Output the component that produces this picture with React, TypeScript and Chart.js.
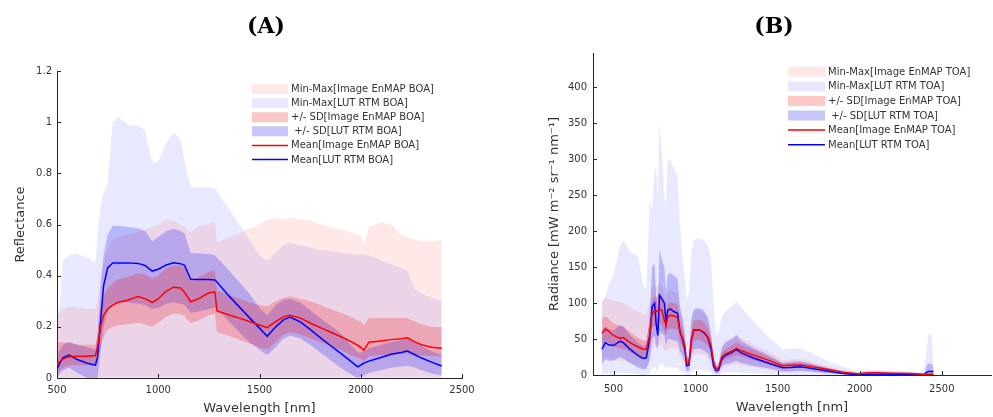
import React, { useEffect, useRef } from 'react';
import { Chart, registerables } from 'chart.js';
Chart.register(...registerables);

const FONT = '"DejaVu Sans", sans-serif';
const TEXT = '#333333';
const AXIS = '#262626';

// ---------- Panel A (BOA reflectance) ----------
const WL_A = [500, 515, 530, 560, 600, 650, 690, 700, 715, 730, 750, 775, 800, 850, 900, 935, 970, 1000, 1040, 1075, 1110, 1130, 1160, 1200, 1250, 1280, 1290, 1350, 1400, 1450, 1500, 1538, 1580, 1620, 1650, 1700, 1750, 1800, 1850, 1900, 1950, 1985, 2000, 2015, 2040, 2100, 2150, 2200, 2230, 2270, 2300, 2350, 2400];
const MEAN_IMG_A = [0.05, 0.065, 0.075, 0.083, 0.085, 0.085, 0.088, 0.12, 0.2, 0.245, 0.27, 0.285, 0.295, 0.305, 0.318, 0.31, 0.295, 0.31, 0.34, 0.355, 0.352, 0.335, 0.298, 0.31, 0.333, 0.336, 0.262, 0.246, 0.234, 0.221, 0.207, 0.197, 0.22, 0.24, 0.245, 0.235, 0.215, 0.197, 0.18, 0.162, 0.143, 0.128, 0.12, 0.108, 0.14, 0.145, 0.15, 0.153, 0.157, 0.14, 0.13, 0.12, 0.116];
const MEAN_LUT_A = [0.035, 0.06, 0.08, 0.09, 0.072, 0.058, 0.05, 0.08, 0.22, 0.36, 0.43, 0.45, 0.45, 0.45, 0.448, 0.44, 0.418, 0.425, 0.442, 0.45, 0.447, 0.44, 0.386, 0.385, 0.385, 0.383, 0.375, 0.32, 0.278, 0.236, 0.195, 0.163, 0.2, 0.228, 0.238, 0.22, 0.19, 0.158, 0.127, 0.097, 0.066, 0.044, 0.05, 0.058, 0.066, 0.08, 0.093, 0.1, 0.105, 0.09, 0.078, 0.062, 0.047];
const SD_IMG_LO_A = [0.02, 0.03, 0.04, 0.05, 0.05, 0.05, 0.05, 0.07, 0.12, 0.16, 0.19, 0.2, 0.205, 0.21, 0.215, 0.21, 0.2, 0.215, 0.24, 0.25, 0.25, 0.24, 0.215, 0.225, 0.245, 0.25, 0.18, 0.165, 0.15, 0.135, 0.12, 0.11, 0.14, 0.17, 0.18, 0.17, 0.155, 0.14, 0.125, 0.11, 0.09, 0.08, 0.075, 0.065, 0.085, 0.09, 0.09, 0.095, 0.095, 0.09, 0.088, 0.086, 0.085];
const SD_IMG_HI_A = [0.14, 0.14, 0.14, 0.14, 0.13, 0.13, 0.13, 0.17, 0.27, 0.32, 0.35, 0.37, 0.385, 0.395, 0.41, 0.405, 0.39, 0.4, 0.43, 0.44, 0.44, 0.43, 0.38, 0.395, 0.415, 0.42, 0.34, 0.325, 0.31, 0.295, 0.285, 0.28, 0.3, 0.315, 0.32, 0.31, 0.3, 0.285, 0.27, 0.255, 0.24, 0.225, 0.22, 0.205, 0.235, 0.235, 0.235, 0.235, 0.235, 0.22, 0.21, 0.2, 0.198];
const SD_LUT_LO_A = [0.0, 0.02, 0.03, 0.04, 0.02, 0.0, 0.0, 0.0, 0.1, 0.2, 0.26, 0.29, 0.295, 0.295, 0.29, 0.285, 0.27, 0.275, 0.29, 0.295, 0.29, 0.285, 0.255, 0.26, 0.27, 0.275, 0.27, 0.22, 0.18, 0.14, 0.11, 0.09, 0.12, 0.155, 0.165, 0.155, 0.13, 0.1, 0.07, 0.04, 0.015, 0.0, 0.005, 0.01, 0.02, 0.03, 0.04, 0.045, 0.048, 0.04, 0.03, 0.018, 0.01];
const SD_LUT_HI_A = [0.08, 0.11, 0.13, 0.14, 0.13, 0.12, 0.11, 0.17, 0.35, 0.48, 0.56, 0.595, 0.595, 0.59, 0.585, 0.575, 0.535, 0.55, 0.575, 0.583, 0.575, 0.565, 0.49, 0.487, 0.485, 0.48, 0.47, 0.42, 0.375, 0.33, 0.275, 0.245, 0.285, 0.305, 0.31, 0.295, 0.265, 0.235, 0.205, 0.175, 0.13, 0.1, 0.1, 0.105, 0.115, 0.13, 0.14, 0.15, 0.155, 0.14, 0.125, 0.105, 0.09];
const MM_IMG_LO_A = [0.003, 0.003, 0.003, 0.003, 0.003, 0.003, 0.003, 0.003, 0.004, 0.005, 0.005, 0.005, 0.005, 0.005, 0.005, 0.005, 0.005, 0.005, 0.005, 0.005, 0.005, 0.005, 0.005, 0.005, 0.005, 0.005, 0.005, 0.005, 0.005, 0.005, 0.005, 0.005, 0.005, 0.005, 0.005, 0.005, 0.005, 0.005, 0.005, 0.005, 0.005, 0.005, 0.005, 0.005, 0.005, 0.005, 0.005, 0.005, 0.005, 0.005, 0.005, 0.005, 0.005];
const MM_IMG_HI_A = [0.24, 0.26, 0.27, 0.28, 0.275, 0.27, 0.27, 0.3, 0.4, 0.45, 0.5, 0.54, 0.55, 0.56, 0.57, 0.58, 0.59, 0.6, 0.62, 0.615, 0.6, 0.59, 0.57, 0.595, 0.6, 0.61, 0.53, 0.55, 0.565, 0.585, 0.6, 0.62, 0.625, 0.62, 0.625, 0.62, 0.615, 0.6, 0.59, 0.58, 0.57, 0.56, 0.555, 0.52, 0.59, 0.61, 0.6, 0.56, 0.55, 0.54, 0.535, 0.535, 0.537];
const MM_LUT_LO_A = [0.0, 0.0, 0.0, 0.0, 0.0, 0.0, 0.0, 0.0, 0.0, 0.0, 0.0, 0.0, 0.0, 0.0, 0.0, 0.0, 0.0, 0.0, 0.0, 0.0, 0.0, 0.0, 0.0, 0.0, 0.0, 0.0, 0.0, 0.0, 0.0, 0.0, 0.0, 0.0, 0.0, 0.0, 0.0, 0.0, 0.0, 0.0, 0.0, 0.0, 0.0, 0.0, 0.0, 0.0, 0.0, 0.0, 0.0, 0.0, 0.0, 0.0, 0.0, 0.0, 0.0];
const MM_LUT_HI_A = [0.22, 0.3, 0.46, 0.48, 0.485, 0.47, 0.45, 0.55, 0.68, 0.72, 0.76, 1.0, 1.02, 0.99, 0.985, 0.97, 0.84, 0.845, 0.92, 0.96, 0.93, 0.85, 0.745, 0.745, 0.745, 0.74, 0.73, 0.66, 0.6, 0.54, 0.48, 0.457, 0.49, 0.52, 0.53, 0.52, 0.51, 0.5, 0.495, 0.49, 0.485, 0.48, 0.483, 0.483, 0.48, 0.46, 0.445, 0.43, 0.42, 0.345, 0.33, 0.315, 0.3];
const X_TICKS_A = [500, 1000, 1500, 2000, 2500];
const Y_TICKS_A = [0, 0.2, 0.4, 0.6, 0.8, 1, 1.2];
const LEGEND_A = ['Min-Max[Image EnMAP BOA]', 'Min-Max[LUT RTM BOA]', '+/- SD[Image EnMAP BOA]', ' +/- SD[LUT RTM BOA]', 'Mean[Image EnMAP BOA]', 'Mean[LUT RTM BOA]'];

// ---------- Panel B (TOA radiance) ----------
const WL_B = [430, 450, 470, 500, 540, 560, 600, 650, 680, 700, 720, 735, 750, 760, 770, 780, 795, 810, 820, 830, 845, 870, 890, 905, 920, 935, 945, 960, 975, 990, 1020, 1050, 1075, 1095, 1110, 1125, 1140, 1160, 1180, 1220, 1250, 1275, 1350, 1450, 1530, 1580, 1640, 1700, 1800, 1900, 2000, 2020, 2050, 2100, 2200, 2300, 2390, 2410, 2420, 2440, 2450];
const MEAN_IMG_B = [58, 64, 61, 55, 51, 52, 45, 39, 36, 36, 55, 85, 90, 88, 90, 92, 90, 75, 70, 80, 83, 82, 80, 60, 52, 40, 17, 17, 50, 62, 63, 60, 53, 40, 18, 8, 10, 25, 29, 33, 37, 34, 28, 20, 13, 13.5, 14, 12, 8, 4, 1.5, 2.5, 3, 3, 2.5, 2, 1, 1, 1, 1, 1];
const MEAN_LUT_B = [36, 45, 42, 41, 47, 45, 36, 27, 23, 24, 50, 95, 100, 70, 55, 111, 106, 100, 72, 90, 92, 88, 86, 60, 50, 35, 13, 14, 50, 63, 63, 59, 52, 35, 12, 6, 7, 22, 27, 31, 36, 31, 24, 16, 10, 10.5, 11.5, 9.5, 5.5, 2, 0, 0.5, 1, 1, 1, 0.5, 0, 4, 5, 5, 5];
const SD_IMG_LO_B = [42, 47, 45, 40, 37, 37, 32, 27, 25, 25, 40, 65, 70, 68, 70, 72, 70, 58, 55, 62, 65, 64, 62, 46, 40, 30, 12, 12, 38, 48, 49, 46, 41, 30, 13, 5, 7, 19, 22, 25, 28, 26, 21, 15, 10, 10, 11, 9, 6, 3, 1, 1.5, 2, 2, 1.8, 1.3, 0.5, 0.5, 0.5, 0.5, 0.5];
const SD_IMG_HI_B = [78, 82, 78, 72, 68, 68, 60, 52, 48, 48, 72, 105, 110, 108, 110, 112, 110, 92, 86, 98, 101, 100, 98, 75, 65, 50, 22, 22, 62, 76, 77, 74, 65, 50, 23, 11, 13, 31, 36, 41, 46, 42, 35, 25, 16, 17, 17.5, 15, 10, 5, 2.5, 3.5, 4, 4, 3.5, 3, 1.5, 1.5, 1.5, 1.5, 1.5];
const SD_LUT_LO_B = [15, 22, 20, 20, 25, 23, 17, 10, 8, 8, 20, 50, 55, 40, 35, 60, 58, 55, 40, 50, 50, 48, 47, 33, 27, 18, 5, 6, 30, 36, 37, 34, 30, 20, 5, 2, 2, 12, 15, 17, 20, 17, 13, 9, 5, 5, 6, 5, 2.5, 1, 0, 0, 0.3, 0.3, 0.3, 0, 0, 1, 1, 1, 1];
const SD_LUT_HI_B = [60, 68, 64, 62, 70, 67, 56, 45, 40, 42, 85, 150, 155, 110, 90, 175, 160, 150, 115, 140, 142, 138, 134, 95, 80, 55, 22, 25, 80, 92, 93, 90, 80, 55, 20, 12, 14, 38, 45, 50, 55, 48, 38, 27, 17, 18, 19, 16, 10, 5, 1.5, 2, 2.5, 2.5, 2.5, 1.5, 1, 14, 16, 15, 12];
const MM_IMG_LO_B = [20, 25, 24, 22, 20, 20, 17, 12, 10, 10, 20, 35, 40, 40, 40, 42, 40, 35, 32, 36, 38, 37, 36, 25, 22, 15, 5, 5, 22, 28, 30, 28, 24, 16, 5, 2, 3, 10, 12, 14, 16, 14, 11, 7, 4, 4, 5, 4, 2, 1, 0, 0.5, 1, 1, 0.8, 0.5, 0, 0, 0, 0, 0];
const MM_IMG_HI_B = [105, 108, 106, 104, 102, 100, 95, 88, 85, 85, 100, 120, 125, 122, 125, 128, 125, 110, 105, 115, 118, 116, 114, 90, 80, 60, 28, 28, 75, 88, 90, 86, 78, 60, 28, 15, 17, 40, 46, 52, 57, 52, 43, 32, 21, 22, 22, 19, 13, 7, 3.5, 5, 5.5, 5.5, 5, 4, 2.5, 2.5, 2.5, 2.5, 2.5];
const MM_LUT_LO_B = [0, 2, 2, 2, 3, 3, 2, 1, 0, 0, 2, 10, 12, 8, 5, 15, 15, 12, 8, 12, 12, 10, 10, 5, 4, 2, 0, 0, 5, 8, 8, 7, 6, 3, 0, 0, 0, 2, 3, 4, 4, 3, 2, 1, 0, 0, 0, 0, 0, 0, 0, 0, 0, 0, 0, 0, 0, 0, 0, 0, 0];
const MM_LUT_HI_B = [100, 110, 125, 140, 180, 187, 172, 165, 125, 120, 240, 230, 282, 290, 250, 350, 310, 250, 230, 300, 300, 285, 278, 210, 165, 135, 105, 115, 170, 188, 190, 188, 180, 160, 95, 55, 60, 80, 88, 95, 102, 95, 75, 52, 36, 37, 37, 31, 20, 11, 4, 7, 7, 6.5, 6, 5, 4.5, 40, 58, 55, 8];
const X_TICKS_B = [500, 1000, 1500, 2000, 2500];
const Y_TICKS_B = [0, 50, 100, 150, 200, 250, 300, 350, 400];
const LEGEND_B = ['Min-Max[Image EnMAP TOA]', 'Min-Max[LUT RTM TOA]', '+/- SD[Image EnMAP TOA]', ' +/- SD[LUT RTM TOA]', 'Mean[Image EnMAP TOA]', 'Mean[LUT RTM TOA]'];

// ---------- styles ----------
const C_MM_IMG = 'rgba(255,0,0,0.09)';
const C_MM_LUT = 'rgba(0,0,255,0.09)';
const C_SD_IMG = 'rgba(240,0,0,0.22)';
const C_SD_LUT = 'rgba(0,0,240,0.22)';
const C_MEAN_IMG = '#ff0000';
const C_MEAN_LUT = '#0000ff';
const LEGEND_STYLES = [
  { kind: 'box', color: C_MM_IMG },
  { kind: 'box', color: C_MM_LUT },
  { kind: 'box', color: C_SD_IMG },
  { kind: 'box', color: C_SD_LUT },
  { kind: 'line', color: C_MEAN_IMG },
  { kind: 'line', color: C_MEAN_LUT },
];

const pts = (xs: number[], ys: number[]) => xs.map((x, i) => ({ x, y: ys[i] }));

const customLegend = {
  id: 'customLegend',
  afterDraw(chart: any, _a: any, o: any) {
    const ctx = chart.ctx;
    ctx.save();
    ctx.font = `10px ${FONT}`;
    ctx.textBaseline = 'middle';
    ctx.textAlign = 'left';
    o.labels.forEach((label: string, i: number) => {
      const cy = o.y + i * o.dy;
      const st = LEGEND_STYLES[i];
      if (st.kind === 'box') {
        ctx.fillStyle = '#ffffff';
        ctx.fillRect(o.x, cy - 5, o.w, 10);
        ctx.fillStyle = st.color;
        ctx.fillRect(o.x, cy - 5, o.w, 10);
      } else {
        ctx.strokeStyle = st.color;
        ctx.lineWidth = 1.5;
        ctx.beginPath();
        ctx.moveTo(o.x, cy);
        ctx.lineTo(o.x + o.w, cy);
        ctx.stroke();
      }
      ctx.fillStyle = TEXT;
      ctx.fillText(label, o.tx, cy + 0.5);
    });
    ctx.restore();
  },
};

const inTicks = {
  id: 'inTicks',
  afterDraw(chart: any, _a: any, o: any) {
    const ctx = chart.ctx;
    const { left, bottom } = chart.chartArea;
    const xs = chart.scales.x;
    const ys = chart.scales.y;
    ctx.save();
    ctx.strokeStyle = AXIS;
    ctx.lineWidth = 1;
    ctx.beginPath();
    o.x.forEach((v: number) => {
      const p = Math.round(xs.getPixelForValue(v)) + 0.5;
      ctx.moveTo(p, bottom);
      ctx.lineTo(p, bottom - o.len);
    });
    o.y.forEach((v: number) => {
      const p = Math.round(ys.getPixelForValue(v)) + 0.5;
      ctx.moveTo(left, p);
      ctx.lineTo(left + o.len, p);
    });
    ctx.stroke();
    ctx.restore();
  },
};

function makeConfig(p: any) {
  const lineDs = (ys: number[], color: string) => ({
    data: pts(p.wl, ys), borderColor: color, borderWidth: 1.5, pointRadius: 0, fill: false, tension: 0,
  });
  const lo = (ys: number[]) => ({
    data: pts(p.wl, ys), borderColor: 'rgba(0,0,0,0)', borderWidth: 0, pointRadius: 0, fill: false, tension: 0,
  });
  const hi = (ys: number[], color: string, target: number) => ({
    data: pts(p.wl, ys), borderColor: 'rgba(0,0,0,0)', borderWidth: 0, pointRadius: 0,
    backgroundColor: color, fill: target, tension: 0,
  });
  return {
    type: 'line',
    data: {
      datasets: [
        lineDs(p.meanImg, C_MEAN_IMG),
        lineDs(p.meanLut, C_MEAN_LUT),
        lo(p.sdImgLo), hi(p.sdImgHi, C_SD_IMG, 2),
        lo(p.sdLutLo), hi(p.sdLutHi, C_SD_LUT, 4),
        lo(p.mmImgLo), hi(p.mmImgHi, C_MM_IMG, 6),
        lo(p.mmLutLo), hi(p.mmLutHi, C_MM_LUT, 8),
      ],
    },
    options: {
      animation: false,
      responsive: false,
      events: [],
      layout: { padding: p.padding },
      plugins: {
        legend: { display: false },
        tooltip: { enabled: false },
        title: { display: false },
        customLegend: p.legend,
        inTicks: { x: p.xTicks, y: p.yTicks, len: 4 },
      },
      scales: {
        x: {
          type: 'linear', min: p.xMin, max: p.xMax,
          afterBuildTicks: (s: any) => { s.ticks = p.xTicks.map((v: number) => ({ value: v })); },
          afterFit: (s: any) => { s.height = p.xH; },
          grid: { display: false, drawTicks: false },
          border: { display: true, color: AXIS, width: 1 },
          ticks: { font: { family: FONT, size: 10 }, color: TEXT, padding: p.xPad, maxRotation: 0, autoSkip: false, callback: (v: any) => String(v) },
          title: { display: true, text: 'Wavelength [nm]', font: { family: FONT, size: 13 }, color: TEXT, padding: { top: 0, bottom: p.xTitlePad } },
        },
        y: {
          type: 'linear', min: p.yMin, max: p.yMax,
          afterBuildTicks: (s: any) => { s.ticks = p.yTicks.map((v: number) => ({ value: v })); },
          afterFit: (s: any) => { s.width = p.yW; },
          grid: { display: false, drawTicks: false },
          border: { display: true, color: AXIS, width: 1 },
          ticks: { font: { family: FONT, size: 10 }, color: TEXT, padding: p.yPad, autoSkip: false, callback: (v: any) => String(v) },
          title: { display: true, text: p.yTitle, font: { family: FONT, size: 13 }, color: TEXT, padding: { top: p.yTitlePad, bottom: 0 } },
        },
      },
    },
    plugins: [customLegend, inTicks],
  };
}

const PANEL_A = {
  wl: WL_A, meanImg: MEAN_IMG_A, meanLut: MEAN_LUT_A,
  sdImgLo: SD_IMG_LO_A, sdImgHi: SD_IMG_HI_A, sdLutLo: SD_LUT_LO_A, sdLutHi: SD_LUT_HI_A,
  mmImgLo: MM_IMG_LO_A, mmImgHi: MM_IMG_HI_A, mmLutLo: MM_LUT_LO_A, mmLutHi: MM_LUT_HI_A,
  xMin: 500, xMax: 2500, yMin: 0, yMax: 1.2, xTicks: X_TICKS_A, yTicks: Y_TICKS_A,
  padding: { left: 0, top: 71, right: 34, bottom: 0 },
  xH: 39, yW: 57, xPad: 6, yPad: 5, xTitlePad: 1, yTitlePad: 13,
  yTitle: 'Reflectance',
  legend: { labels: LEGEND_A, x: 252, y: 89, dy: 14.1, w: 36, tx: 291 },
};

const PANEL_B = {
  wl: WL_B, meanImg: MEAN_IMG_B, meanLut: MEAN_LUT_B,
  sdImgLo: SD_IMG_LO_B, sdImgHi: SD_IMG_HI_B, sdLutLo: SD_LUT_LO_B, sdLutHi: SD_LUT_HI_B,
  mmImgLo: MM_IMG_LO_B, mmImgHi: MM_IMG_HI_B, mmLutLo: MM_LUT_LO_B, mmLutHi: MM_LUT_HI_B,
  xMin: 375, xMax: 2800, yMin: 0, yMax: 448, xTicks: X_TICKS_B, yTicks: Y_TICKS_B,
  padding: { left: 0, top: 53, right: 2, bottom: 0 },
  xH: 42, yW: 97, xPad: 8, yPad: 6, xTitlePad: 2, yTitlePad: 51,
  yTitle: 'Radiance [mW m\u207B\u00B2 sr\u207B\u00B9 nm\u207B\u00B9]',
  legend: { labels: LEGEND_B, x: 292, y: 71.7, dy: 14.6, w: 37, tx: 332 },
};

function Panel({ cfg, left, width }: any) {
  const ref = useRef<HTMLCanvasElement | null>(null);
  useEffect(() => {
    const chart = new Chart(ref.current as any, makeConfig(cfg) as any);
    return () => chart.destroy();
  }, []);
  return (
    <canvas ref={ref} width={width} height={417}
      style={{ position: 'absolute', left, top: 0, width, height: 417, display: 'block' }} />
  );
}

const titleStyle: any = {
  position: 'absolute', top: 10, width: 100, textAlign: 'center',
  fontFamily: '"DejaVu Serif", serif', fontWeight: 'bold', fontSize: 22, lineHeight: '30px', color: '#000',
};

export default function App() {
  return (
    <div style={{ position: 'absolute', left: 0, top: 0, width: 993, height: 417, background: '#fff', overflow: 'hidden' }}>
      <Panel cfg={PANEL_A} left={0} width={496} />
      <Panel cfg={PANEL_B} left={496} width={497} />
      <div style={{ ...titleStyle, left: 216 }}>(A)</div>
      <div style={{ ...titleStyle, left: 724 }}>(B)</div>
    </div>
  );
}
